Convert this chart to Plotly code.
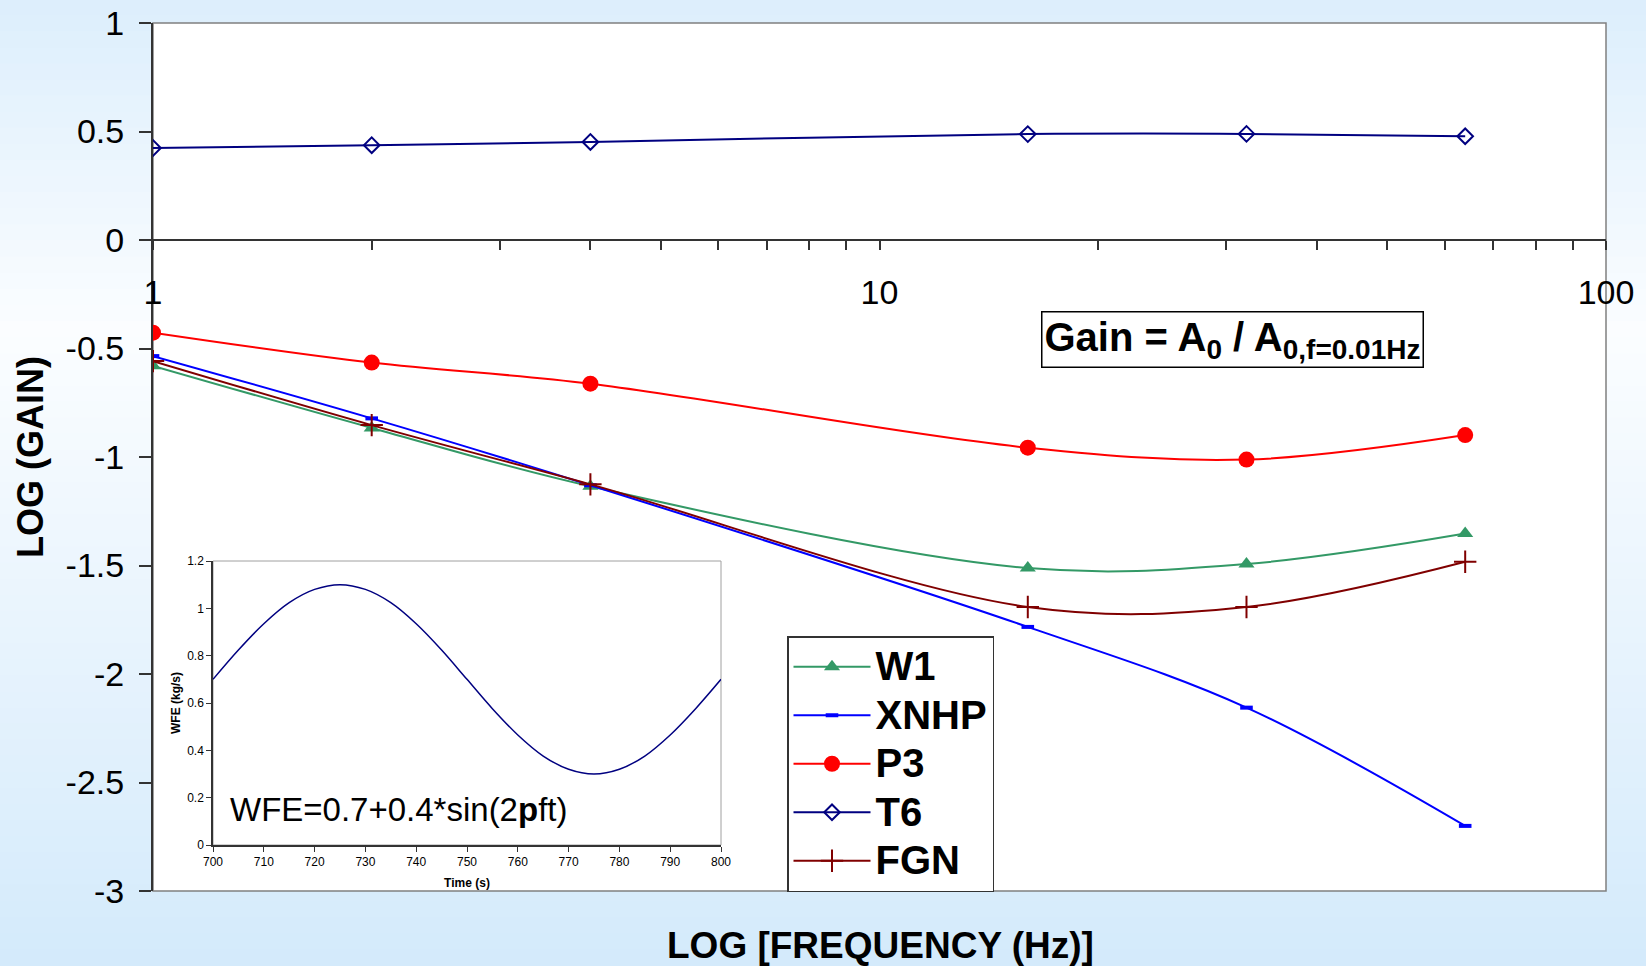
import plotly.graph_objects as go

# ---------------- data ----------------
freq = [1, 2, 4, 16, 32, 64]
w1 = [-0.58, -0.866, -1.135, -1.512, -1.493, -1.353]
xnhp = [-0.535, -0.822, -1.130, -1.783, -2.155, -2.70]
p3 = [-0.427, -0.565, -0.662, -0.957, -1.012, -0.899]
t6 = [0.424, 0.437, 0.452, 0.488, 0.489, 0.478]
fgn = [-0.558, -0.853, -1.126, -1.691, -1.691, -1.483]
series_names = ["W1", "XNHP", "P3", "T6", "FGN"]

y_tickvals = [1, 0.5, 0, -0.5, -1, -1.5, -2, -2.5, -3]
y_ticktext = ["1", "0.5", "0", "-0.5", "-1", "-1.5", "-2", "-2.5", "-3"]
x_tickvals = [1, 2, 3, 4, 5, 6, 7, 8, 9, 10, 20, 30, 40, 50, 60, 70, 80, 90, 100]
x_ticktext = ["1", "", "", "", "", "", "", "", "", "10", "", "", "", "", "", "", "", "", "100"]

# inset: WFE versus time
inset_t = [700, 705, 710, 715, 720, 725, 730, 735, 740, 745, 750,
           755, 760, 765, 770, 775, 780, 785, 790, 795, 800]
inset_wfe = [0.70, 0.824, 0.935, 1.024, 1.080, 1.10, 1.080, 1.024, 0.935, 0.824, 0.70,
             0.576, 0.465, 0.376, 0.320, 0.30, 0.320, 0.376, 0.465, 0.576, 0.70]
inset_xticks = [700, 710, 720, 730, 740, 750, 760, 770, 780, 790, 800]
inset_yticks = [0, 0.2, 0.4, 0.6, 0.8, 1, 1.2]
inset_yticktext = ["0", "0.2", "0.4", "0.6", "0.8", "1", "1.2"]

FONT = "Arial, Liberation Sans, sans-serif"

# ---------------- geometry (pixels) ----------------
W, H = 1646, 966
L, R, T, B = 153, 1606, 23, 891
pw, ph = R - L, B - T


def px(x):
    return (x - L) / pw


def py(y):
    return (B - y) / ph


def lg(name):
    return "<span style='font-size:40px'>%s</span>" % name


fig = go.Figure()

fig.add_trace(go.Scatter(x=freq, y=w1, name=lg(series_names[0]), mode="lines+markers",
                         line_shape="spline", line=dict(color="#339966", width=2),
                         marker=dict(symbol="triangle-up", size=14, color="#339966")))
fig.add_trace(go.Scatter(x=freq, y=xnhp, name=lg(series_names[1]), mode="lines+markers",
                         line_shape="spline", line=dict(color="#0000FF", width=2),
                         marker=dict(symbol="line-ew", size=9, color="#0000FF",
                                     line=dict(color="#0000FF", width=4))))
fig.add_trace(go.Scatter(x=freq, y=p3, name=lg(series_names[2]), mode="lines+markers",
                         line_shape="spline", line=dict(color="#FF0000", width=2),
                         marker=dict(symbol="circle", size=16, color="#FF0000")))
fig.add_trace(go.Scatter(x=freq, y=t6, name=lg(series_names[3]), mode="lines+markers",
                         line_shape="spline", line=dict(color="#000080", width=2),
                         marker=dict(symbol="diamond-open", size=12, color="#000080",
                                     line=dict(color="#000080", width=2))))
fig.add_trace(go.Scatter(x=freq, y=fgn, name=lg(series_names[4]), mode="lines+markers",
                         line_shape="spline", line=dict(color="#800000", width=2),
                         marker=dict(symbol="cross-thin", size=16, color="#800000",
                                     line=dict(color="#800000", width=2))))

# inset
fig.add_trace(go.Scatter(x=inset_t, y=inset_wfe, xaxis="x2", yaxis="y2", mode="lines",
                         line_shape="spline", line=dict(color="#000080", width=1.5),
                         showlegend=False))

# ---------------- background gradient ----------------
shapes = []
N = 60


def lerp(c1, c2, f):
    return tuple(round(a + (b - a) * f) for a, b in zip(c1, c2))


top_c = (220, 238, 252)
mid_c = (251, 253, 255)
bot_c = (212, 234, 251)
mid_y = 330
for i in range(N):
    y0 = H * i / N
    y1 = H * (i + 1) / N
    yc = (y0 + y1) / 2
    if yc < mid_y:
        c = lerp(top_c, mid_c, yc / mid_y)
    else:
        c = lerp(mid_c, bot_c, (yc - mid_y) / (H - mid_y))
    shapes.append(dict(type="rect", xref="paper", yref="paper", layer="below",
                       x0=px(-2), x1=px(W + 2), y0=py(y1 + 1), y1=py(y0 - 1),
                       fillcolor="rgb(%d,%d,%d)" % c, line=dict(width=0)))
# plot area
shapes.append(dict(type="rect", xref="paper", yref="paper", layer="below",
                   x0=0, x1=1, y0=0, y1=1, fillcolor="white",
                   line=dict(color="#808080", width=1.5)))
# inset frame
shapes.append(dict(type="rect", xref="x2 domain", yref="y2 domain", layer="below",
                   x0=0, x1=1, y0=0, y1=1, fillcolor="white",
                   line=dict(color="#A0A0A0", width=1)))

annotations = [
    dict(text="<b>Gain = A<sub>0</sub> / A<sub>0,f=0.01Hz</sub></b>", xref="paper", yref="paper",
         x=px(1232), y=py(340), xanchor="center", yanchor="middle", showarrow=False,
         font=dict(family=FONT, size=40, color="black"), bgcolor="white",
         bordercolor="black", borderwidth=1.5, borderpad=2),
    dict(text="<b>LOG (GAIN)</b>", xref="paper", yref="paper", x=px(30), y=py(457),
         xanchor="center", yanchor="middle", showarrow=False, textangle=-90,
         font=dict(family=FONT, size=36, color="black")),
    dict(text="<b>LOG [FREQUENCY (Hz)]</b>", xref="paper", yref="paper", x=px(880), y=py(945),
         xanchor="center", yanchor="middle", showarrow=False,
         font=dict(family=FONT, size=37, color="black")),
    dict(text="WFE=0.7+0.4*sin(2<b>p</b>ft)", xref="x2", yref="y2", x=703, y=0.15,
         xanchor="left", yanchor="middle", showarrow=False,
         font=dict(family=FONT, size=33, color="black")),
]

fig.update_layout(
    width=W, height=H,
    margin=dict(l=L, r=W - R, t=T, b=H - B, autoexpand=False),
    paper_bgcolor="rgb(220,238,252)",
    plot_bgcolor="rgba(0,0,0,0)",
    font=dict(family=FONT, color="black"),
    shapes=shapes,
    annotations=annotations,
    showlegend=True,
    legend=dict(x=px(787), y=py(636), xanchor="left", yanchor="top",
                bgcolor="white", bordercolor="#333333", borderwidth=1.5,
                font=dict(family=FONT, size=35, color="black", weight="bold"),
                itemwidth=77, tracegroupgap=0),
    xaxis=dict(type="log", range=[0, 2], anchor="free", position=py(240), automargin=False,
               showline=True, linecolor="#333333", linewidth=1.5,
               ticks="outside", ticklen=9, tickwidth=1.5, tickcolor="#333333",
               tickvals=x_tickvals, ticktext=x_ticktext, ticklabelstandoff=13,
               tickfont=dict(family=FONT, size=34, color="black"),
               showgrid=False, zeroline=False),
    yaxis=dict(range=[-3, 1], showline=True, linecolor="#333333", linewidth=2, automargin=False,
               ticks="outside", ticklen=12, tickwidth=1.5, tickcolor="#333333",
               tickvals=y_tickvals, ticktext=y_ticktext, ticklabelstandoff=8,
               tickfont=dict(family=FONT, size=34, color="black"),
               showgrid=False, zeroline=False),
    xaxis2=dict(domain=[px(213), px(721)], anchor="y2", range=[700, 800], automargin=False,
                showline=True, linecolor="#333333", linewidth=1.5,
                ticks="outside", ticklen=5, tickcolor="#333333",
                tickvals=inset_xticks, tickfont=dict(family=FONT, size=12, color="black"),
                title=dict(text="<b>Time (s)</b>", font=dict(family=FONT, size=12, color="black"),
                           standoff=10),
                showgrid=False, zeroline=False),
    yaxis2=dict(domain=[py(845), py(561)], anchor="x2", range=[0, 1.2], automargin=False,
                showline=True, linecolor="#333333", linewidth=1.5,
                ticks="outside", ticklen=5, tickcolor="#333333",
                tickvals=inset_yticks, ticktext=inset_yticktext,
                tickfont=dict(family=FONT, size=12, color="black"),
                title=dict(text="<b>WFE (kg/s)</b>", font=dict(family=FONT, size=12, color="black"),
                           standoff=4),
                showgrid=False, zeroline=False),
)

fig.write_html("out.html", config={"displayModeBar": False},
               post_script="document.body.style.margin='0px';document.body.style.overflow='hidden';")
